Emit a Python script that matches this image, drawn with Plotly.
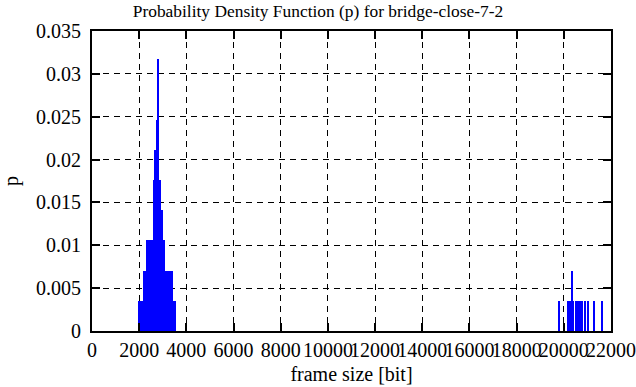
import plotly.graph_objects as go

# Histogram segments: left edge, right edge (bit), probability
main_left = [1952, 2164, 2291, 2588, 2631, 2716, 2758, 2843, 2928, 3013, 3097, 3437]
main_right = [2164, 2291, 2588, 2631, 2716, 2758, 2843, 2928, 3013, 3097, 3437, 3564]
main_p = [0.00352, 0.00704, 0.01056, 0.01761, 0.02113, 0.02465, 0.03169,
          0.01761, 0.01408, 0.01056, 0.00704, 0.00352]

tail_left = [19772, 20154, 20324, 20379, 20493, 20875, 21003, 21257, 21597]
tail_right = [19827, 20324, 20379, 20451, 20833, 20918, 21045, 21300, 21639]
tail_p = [0.00352, 0.00352, 0.00704, 0.00352, 0.00352, 0.00352, 0.00352, 0.00352, 0.00352]

x_ticks = list(range(0, 22001, 2000))
y_ticks = [0, 0.005, 0.01, 0.015, 0.02, 0.025, 0.03, 0.035]
y_labels = ["0", "0.005", "0.01", "0.015", "0.02", "0.025", "0.03", "0.035"]

lefts = main_left + tail_left
rights = main_right + tail_right
probs = main_p + tail_p
centers = [(a + b) / 2 for a, b in zip(lefts, rights)]
widths = [b - a for a, b in zip(lefts, rights)]

fig = go.Figure(go.Bar(
    x=centers, y=probs, width=widths,
    marker=dict(color="#0000FF", line=dict(width=0)),
    showlegend=False,
))

font = "Liberation Serif, Times New Roman, serif"
axis_common = dict(
    showline=True, linecolor="black", linewidth=2, mirror="allticks",
    ticks="inside", ticklen=8, tickwidth=2, tickcolor="black",
    showgrid=True, gridcolor="black", gridwidth=1, griddash="6px,5px",
    zeroline=False, automargin=False,
    tickfont=dict(family=font, size=20, color="black"),
)

fig.update_xaxes(range=[0, 22000], tickvals=x_ticks, ticktext=[str(v) for v in x_ticks],
                 tickangle=0,
                 title=dict(text="frame size [bit]", font=dict(family=font, size=20, color="black"),
                            standoff=7),
                 **axis_common)
fig.update_yaxes(range=[0, 0.035], tickvals=y_ticks, ticktext=y_labels,
                 ticklabelstandoff=5,
                 title=dict(text="p", font=dict(family=font, size=20, color="black"), standoff=16),
                 **axis_common)

fig.update_layout(
    width=636, height=387,
    margin=dict(l=92, r=25, t=31, b=56),
    plot_bgcolor="white", paper_bgcolor="white",
    title=dict(text="Probability Density Function (p) for bridge-close-7-2",
               font=dict(family=font, size=17.4, color="black"),
               x=0.5, xanchor="center", y=1 - 11 / 387, yanchor="middle", automargin=False),
    bargap=0,
)

fig.write_html("out.html", config={"displayModeBar": False},
               post_script="document.body.style.margin='0px';")
